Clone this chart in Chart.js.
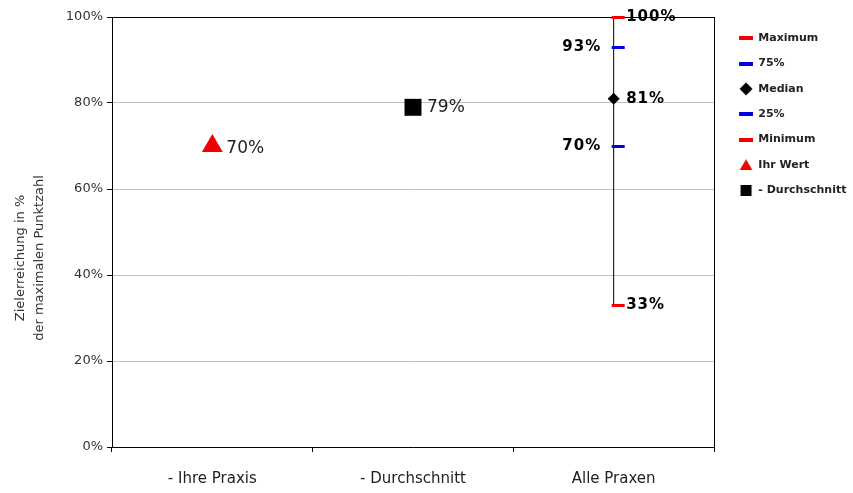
<!DOCTYPE html>
<html><head><meta charset="utf-8">
<script src="https://cdn.jsdelivr.net/npm/chart.js@4"></script>
<style>html,body{margin:0;padding:0;background:#fff}</style>
</head><body>
<canvas id="c" width="853" height="493"></canvas>
<script>
// ---- data ----
const categories = ['- Ihre Praxis', '- Durchschnitt', 'Alle Praxen'];
const statNames = ['Maximum', '75%', 'Median', '25%', 'Minimum'];
const statValues = [100, 93, 81, 70, 33];
const ihrWertName = 'Ihr Wert';
const ihrWertValue = 70;
const durchschnittName = '- Durchschnitt';
const durchschnittValue = 79;
const yTickValues = [0, 20, 40, 60, 80, 100];
const yTitleLines = ['Zielerreichung in %', 'der maximalen Punktzahl'];

// ---- styles ----
const RED = '#f00000', BLUE = '#0000e0', BLACK = '#000000';
const statColors = [RED, BLUE, BLACK, BLUE, RED];
const statSides = ['right', 'left', 'right', 'left', 'right'];

function mk(w, h, draw) { const c = document.createElement('canvas'); c.width = w; c.height = h; const x = c.getContext('2d'); draw(x); return c; }
function dashPoint(color) { return mk(26, 3, x => { x.fillStyle = color; x.fillRect(11, 0, 13, 3); }); }
function dashLegend(color) { return mk(25, 4, x => { x.fillStyle = color; x.fillRect(11, 0, 14, 4); }); }
const diamondLegend = mk(25, 14, x => { x.fillStyle = BLACK; x.beginPath(); x.moveTo(18, 0.5); x.lineTo(24.5, 7); x.lineTo(18, 13.5); x.lineTo(11.5, 7); x.closePath(); x.fill(); });
const triangleLegend = mk(25, 11, x => { x.fillStyle = RED; x.beginPath(); x.moveTo(18, 0); x.lineTo(24.5, 11); x.lineTo(11.5, 11); x.closePath(); x.fill(); });
const squareLegend = mk(25, 11, x => { x.fillStyle = BLACK; x.fillRect(12.5, 0, 11, 11); });

const datasets = [];
statNames.forEach((name, i) => {
  const data = categories.map((c, j) => j === 2 ? statValues[i] : null);
  const isMedian = name === 'Median';
  datasets.push({
    label: name, data, showLine: false, clip: false,
    pointStyle: isMedian ? 'rectRot' : dashPoint(statColors[i]),
    pointRadius: isMedian ? 6 : 10,
    pointBackgroundColor: statColors[i], pointBorderColor: statColors[i], pointBorderWidth: 0,
    legendIcon: isMedian ? diamondLegend : dashLegend(statColors[i]),
    valueLabel: { side: statSides[i], bold: true, gap: 12.5 }
  });
});
datasets.push({
  label: ihrWertName, data: categories.map((c, j) => j === 0 ? ihrWertValue : null), showLine: false, clip: false,
  pointStyle: 'triangle', pointRadius: 12, pointBackgroundColor: RED, pointBorderColor: RED, pointBorderWidth: 0,
  legendIcon: triangleLegend, valueLabel: { side: 'right', bold: false, gap: 14, dy: 3 }
});
datasets.push({
  label: durchschnittName, data: categories.map((c, j) => j === 1 ? durchschnittValue : null), showLine: false, clip: false,
  pointStyle: 'rect', pointRadius: 12, pointBackgroundColor: BLACK, pointBorderColor: BLACK, pointBorderWidth: 0,
  legendIcon: squareLegend, valueLabel: { side: 'right', bold: false, gap: 14, dy: 0 }
});
// whisker line from Minimum to Maximum
datasets.push({
  label: 'range', isRange: true, clip: false,
  data: [{ x: categories[2], y: Math.min(...statValues) }, { x: categories[2], y: Math.max(...statValues) }],
  showLine: true, borderColor: BLACK, borderWidth: 1, pointRadius: 0, order: 10
});

const frame = {
  id: 'frame',
  beforeDatasetsDraw(chart) {
    const { ctx, chartArea: a } = chart;
    ctx.save(); ctx.strokeStyle = '#000'; ctx.lineWidth = 1;
    ctx.beginPath();
    ctx.moveTo(a.left, Math.round(a.top) + 0.5); ctx.lineTo(a.right, Math.round(a.top) + 0.5);
    ctx.moveTo(Math.round(a.right) + 0.5, a.top); ctx.lineTo(Math.round(a.right) + 0.5, a.bottom);
    ctx.stroke(); ctx.restore();
  }
};

const yTitle = {
  id: 'yTitle',
  afterDraw(chart) {
    const { ctx } = chart;
    ctx.save();
    ctx.font = '13px "DejaVu Sans"'; ctx.fillStyle = '#333';
    ctx.textAlign = 'center'; ctx.textBaseline = 'middle';
    const cy = 258;
    [21, 40].forEach((x, i) => {
      ctx.save(); ctx.translate(x, cy); ctx.rotate(-Math.PI / 2);
      ctx.fillText(yTitleLines[i], 0, 0); ctx.restore();
    });
    ctx.restore();
  }
};

const valueLabels = {
  id: 'valueLabels',
  afterDatasetsDraw(chart) {
    const ctx = chart.ctx;
    chart.data.datasets.forEach((ds, i) => {
      const cfg = ds.valueLabel; if (!cfg) return;
      const meta = chart.getDatasetMeta(i);
      meta.data.forEach((pt, j) => {
        const v = ds.data[j]; if (v == null) return;
        ctx.save();
        ctx.textBaseline = 'middle';
        if (cfg.bold) { ctx.font = 'bold 15px "DejaVu Sans"'; ctx.fillStyle = '#000'; ctx.letterSpacing = '1px'; }
        else { ctx.font = '17px "DejaVu Sans"'; ctx.fillStyle = '#222'; }
        const t = Math.round(v) + '%';
        if (cfg.side === 'right') { ctx.textAlign = 'left'; ctx.fillText(t, pt.x + cfg.gap, pt.y + (cfg.dy || 0)); }
        else { ctx.textAlign = 'right'; ctx.fillText(t, pt.x - cfg.gap, pt.y + (cfg.dy || 0)); }
        ctx.restore();
      });
    });
  }
};

new Chart(document.getElementById('c'), {
  type: 'line',
  data: { labels: categories, datasets },
  plugins: [frame, valueLabels, yTitle],
  options: {
    responsive: false, animation: false, events: [],
    layout: { padding: { top: 17, left: 0, right: 0, bottom: 0 } },
    scales: {
      x: {
        type: 'category', offset: true,
        grid: { display: true, drawOnChartArea: false, drawTicks: true, tickLength: 5, tickColor: '#000', offset: true },
        border: { color: '#000', width: 1 },
        ticks: { font: { family: 'DejaVu Sans', size: 15 }, color: '#222', padding: 18, maxRotation: 0 },
        afterFit(s) { s.height = 46; }
      },
      y: {
        min: 0, max: 100,
        afterBuildTicks(s) { s.ticks = yTickValues.map(v => ({ value: v })); },
        grid: { color: '#c0c0c0', tickColor: '#000', tickLength: 5 },
        border: { color: '#000', width: 1 },
        ticks: { font: { family: 'DejaVu Sans', size: 13 }, color: '#333', padding: 4, callback: v => v + '%' },
        afterFit(s) { s.width = 112; }
      }
    },
    plugins: {
      tooltip: { enabled: false },
      legend: {
        position: 'right', align: 'start', maxWidth: 139,
        title: { display: true, text: ' ', font: { size: 1, lineHeight: 1.5 }, padding: 0 },
        labels: {
          usePointStyle: true, pointStyleWidth: 24.5, padding: 14.3,
          font: { family: 'DejaVu Sans', size: 11, weight: 'bold' }, color: '#222',
          generateLabels(chart) {
            return chart.data.datasets.map((ds, i) => ({ ds, i })).filter(o => !o.ds.isRange).map(({ ds, i }) => ({
              text: ds.label, pointStyle: ds.legendIcon, fillStyle: '#000', strokeStyle: '#000', lineWidth: 0,
              hidden: false, datasetIndex: i, fontColor: '#222'
            }));
          }
        }
      }
    }
  }
});
</script>
</body></html>
